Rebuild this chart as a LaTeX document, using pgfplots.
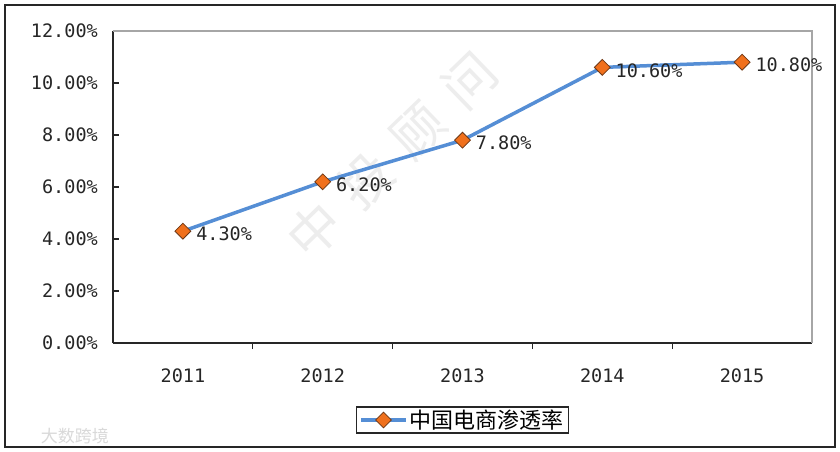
\documentclass[border=0pt]{standalone}
\usepackage{pgfplots}
\pgfplotsset{compat=1.18}
\usepackage{fontspec}
\newfontfamily\cjk{Noto Sans CJK SC}
\newfontfamily\mono{DejaVu Sans Mono}
\definecolor{lineblue}{RGB}{85,142,213}
\definecolor{mkorange}{RGB}{240,112,28}
\definecolor{mkedge}{RGB}{110,55,20}
\begin{document}
\begin{tikzpicture}
\path[use as bounding box, fill=white] (-113bp,-109bp) rectangle (727bp,343bp);
\draw[line width=1.5bp, black!85] (-108bp,-104bp) rectangle (722bp,338bp);
\node[text=gray!30, font=\cjk\fontsize{17bp}{19bp}\selectfont] at (-38bp,-93bp) {大数跨境};
\begin{axis}[
  at={(0,0)}, anchor=south west, scale only axis,
  width=699bp, height=312bp,
  xmin=-0.5, xmax=4.5, ymin=0, ymax=12,
  axis x line*=bottom, axis y line*=left,
  axis line style={line width=1.5bp, black!85},
  /pgf/number format/assume math mode=true,
  tick style={line width=1.2bp, black!85},
  xtick={0.5,1.5,2.5,3.5}, xticklabels={},
  extra x ticks={0,1,2,3,4},
  extra x tick labels={2011,2012,2013,2014,2015},
  extra x tick style={major tick length=0pt},
  xtick align=outside, ytick align=inside,
  major tick length=6bp,
  ytick={0,2,...,12},
  yticklabel={\pgfmathprintnumber[fixed,fixed zerofill,precision=2]{\tick}\%},
  tick label style={font=\mono\fontsize{18.5bp}{20bp}\selectfont, text=black!85},
  yticklabel style={inner sep=0pt, xshift=-15bp},
  xticklabel style={inner sep=0pt, yshift=-26bp},
  nodes near coords={\pgfmathprintnumber[fixed,fixed zerofill,precision=2]{\pgfplotspointmeta}\%},
  every node near coord/.append style={anchor=west, inner sep=0pt, xshift=13bp, yshift=-3bp,
     font=\mono\fontsize{18.5bp}{20bp}\selectfont, text=black!85},
  legend style={at={(0.5,-0.2468)}, anchor=center, draw=black!85, line width=1.2bp,
     font=\cjk\fontsize{22bp}{24bp}\selectfont, inner xsep=3bp, inner ysep=1bp},
  legend image code/.code={\draw[mark repeat=2, mark phase=2, #1] plot coordinates {(0bp,0bp) (22.5bp,0bp) (45bp,0bp)};},
  clip=false,
]
\node[text=gray!14, rotate=44, font=\cjk\fontsize{52bp}{54bp}\selectfont] at (rel axis cs:0.399,0.603) {中\hspace{20bp}投\hspace{20bp}顾\hspace{20bp}问};
\draw[line width=1.2bp, gray!70] (rel axis cs:0,1) -- (rel axis cs:1,1) -- (rel axis cs:1,0);
\addplot[line width=3.5bp, lineblue, mark=square*, mark size=5.6bp,
  mark options={rotate=45, fill=mkorange, draw=mkedge, line width=0.8bp}]
  coordinates {(0,4.3) (1,6.2) (2,7.8) (3,10.6) (4,10.8)};
\addlegendentry{中国电商渗透率}
\end{axis}
\end{tikzpicture}
\end{document}
